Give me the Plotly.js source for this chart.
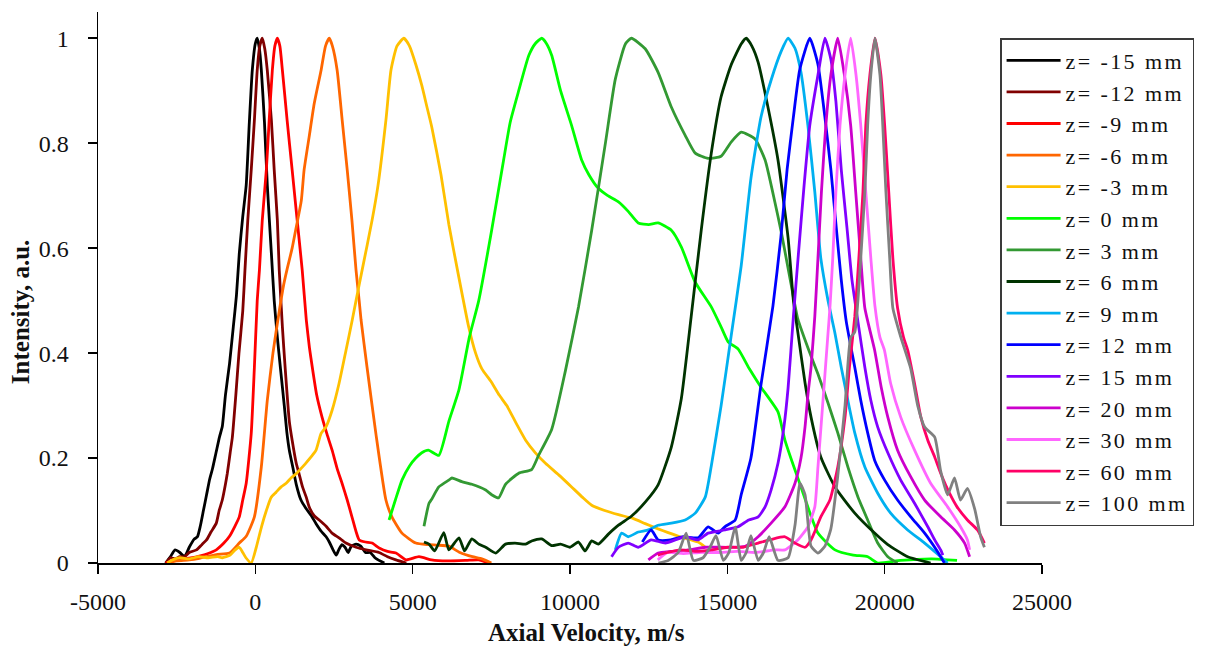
<!DOCTYPE html>
<html><head><meta charset="utf-8">
<script src="https://cdn.plot.ly/plotly-3.0.1.min.js"></script>
<style>html,body{margin:0;padding:0;background:#fff}#chart{width:1206px;height:652px}
.legendtext{letter-spacing:2.4px}</style>
</head><body><div id="chart"></div>
<script>
// Axial velocity (m/s) and normalized intensity (a.u.) per axial position z
const v_m15 = [-2850,-2700,-2550,-2400,-2250,-2100,-1950,-1840,-1750,-1650,-1550,-1450,-1360,-1250,-1140,-1050,-950,-820,-700,-600,-510,-400,-290,-190,-95,0,60,130,190,290,380,510,600,700,800,920,1000,1080,1200,1300,1450,1600,1780,1930,2100,2250,2350,2470,2570,2650,2750,2850,2950,3050,3200,3350,3500,3650,3800,3930,4100];
const i_m15 = [0,.012,.025,.02,.012,.03,.045,.05,.07,.1,.13,.16,.18,.21,.24,.26,.32,.38,.45,.51,.59,.66,.72,.84,.94,.99,1,.98,.94,.84,.72,.59,.5,.43,.37,.3,.25,.215,.18,.15,.12,.105,.09,.075,.06,.05,.04,.025,.015,.025,.035,.03,.02,.032,.036,.032,.02,.02,.01,.005,0];

const v_m12 = [-2850,-2700,-2550,-2400,-2250,-2100,-1870,-1700,-1550,-1400,-1240,-1150,-1050,-950,-890,-800,-730,-620,-520,-400,-330,-240,-130,-30,60,140,220,300,380,510,600,700,760,860,950,1080,1170,1300,1390,1500,1620,1710,1870,2030,2250,2440,2660,2880,3200,3520,3930,4200,4470,4800];
const i_m12 = [0,.01,.008,.012,.012,.02,.025,.035,.044,.06,.076,.1,.12,.15,.171,.21,.24,.32,.4,.48,.558,.653,.749,.844,.939,.985,1,.98,.939,.844,.749,.653,.558,.45,.37,.27,.234,.19,.17,.145,.125,.107,.09,.082,.07,.057,.048,.038,.03,.025,.02,.012,.006,0];

const v_m9 = [-2850,-2600,-2300,-2000,-1780,-1500,-1240,-1000,-820,-650,-510,-400,-290,-130,-30,60,130,220,350,440,540,620,700,780,860,1010,1170,1330,1490,1620,1720,1810,1950,2120,2280,2440,2600,2760,2920,3070,3200,3300,3500,3710,3950,4200,4470,4790,5200,5600,6100,6700,7100,7400];
const i_m9 = [0,.005,.008,.01,.013,.018,.025,.038,.051,.07,.088,.12,.152,.247,.373,.5,.558,.653,.749,.844,.939,.985,1,.985,.939,.844,.749,.653,.558,.463,.41,.373,.32,.278,.245,.215,.18,.151,.12,.088,.06,.044,.04,.038,.028,.022,.019,.006,.012,.006,.004,.005,.006,0];

const v_m6 = [-2800,-2500,-2100,-1780,-1240,-820,-510,-290,-30,190,380,560,760,900,1010,1170,1300,1460,1550,1710,1870,2090,2230,2350,2450,2600,2760,2920,3070,3200,3300,3360,3550,3830,4150,4340,4660,5100,5500,5800,6150,6500,6900,7200,7500];
const i_m6 = [0,.004,.006,.009,.016,.019,.038,.051,.088,.183,.31,.4,.48,.53,.56,.6,.64,.69,.749,.812,.875,.939,.985,1,.985,.939,.844,.749,.653,.558,.5,.463,.373,.247,.12,.088,.057,.038,.035,.034,.032,.02,.012,.008,0];

const v_m3 = [-2800,-2630,-2400,-2100,-1800,-1500,-1200,-1050,-800,-640,-510,-400,-300,-130,30,200,350,500,660,820,980,1150,1300,1450,1600,1810,1930,2090,2250,2440,2660,2880,3080,3200,3400,3710,3900,4150,4310,4500,4720,4900,5100,5290,5450,5610,5900,6150,6450,6780,7000,7200,7500,7750,7990,8300,8590,8900,9220,9640,10050,10400,10690,11100,11540,12000,12390,12800,13120,13500,14070,14300];
const i_m3 = [0,.006,.01,.008,.012,.01,.012,.01,.015,.025,.03,.02,.01,0,.03,.07,.1,.125,.135,.145,.152,.163,.17,.18,.19,.205,.215,.247,.26,.291,.342,.405,.463,.5,.56,.653,.72,.844,.939,.985,1,.985,.95,.91,.87,.83,.74,.645,.55,.45,.4,.37,.345,.32,.3,.265,.234,.21,.19,.168,.145,.125,.11,.1,.092,.085,.075,.065,.058,.05,.04,.03];

const v_p0 = [4250,4450,4660,4900,5100,5290,5500,5830,6150,6470,6800,7100,7510,7890,8100,8370,8690,8900,9100,9250,9420,9700,10050,10370,10600,10900,11200,11540,11850,12170,12500,12800,13220,13540,13980,14490,14800,15030,15340,15700,16070,16610,16830,17340,17880,18420,19000,19460,19780,20500,21500,22300];
const i_p0 = [.082,.12,.158,.185,.2,.21,.215,.205,.27,.33,.43,.5,.634,.768,.84,.9,.967,.99,1,.99,.967,.9,.834,.768,.74,.714,.7,.688,.67,.648,.645,.648,.634,.602,.535,.488,.45,.421,.408,.37,.335,.288,.234,.145,.057,.025,.015,.012,0,.005,.008,.005];

const v_p3 = [5360,5520,5610,5830,6150,6250,6560,6880,7320,7510,7730,7950,8370,8780,9000,9420,9860,10270,10690,11130,11440,11760,11950,12390,12800,13220,13660,13980,14390,14800,15120,15440,15880,16200,16510,16710,17020,17240,17560,17880,18200,18510,18830,19150,19460,19780,20100,20410];
const i_p3 = [.07,.114,.122,.145,.158,.162,.155,.15,.139,.13,.124,.15,.171,.178,.205,.255,.368,.488,.634,.802,.922,.989,1,.98,.935,.869,.815,.781,.771,.775,.802,.821,.808,.768,.688,.632,.533,.465,.41,.36,.305,.248,.183,.126,.082,.038,.012,0];

const v_p6 = [5360,5520,5700,5990,6150,6470,6650,6880,7100,7320,7640,7950,8250,8590,8780,9100,9420,9700,10000,10270,10480,10690,10900,11220,11540,11950,12390,12800,13220,13540,13850,14170,14490,14800,15120,15440,15600,15780,15980,16290,16610,16930,17100,17240,17470,17660,17970,18420,19050,19680,20100,20730,21460];
const i_p6 = [.04,.036,.023,.058,.025,.048,.023,.046,.036,.03,.019,.036,.038,.036,.042,.046,.033,.036,.03,.04,.023,.042,.036,.055,.072,.089,.116,.149,.221,.314,.469,.634,.781,.888,.949,.989,1,.985,.954,.869,.768,.62,.5,.44,.343,.278,.202,.145,.095,.057,.035,.012,0];

const v_p9 = [11440,11640,11850,12170,12490,12800,13220,13660,13980,14300,14490,14800,15120,15440,15750,16070,16390,16710,16930,17150,17340,17560,17780,17970,18200,18420,18620,18830,19050,19370,19780,20190,20730,21270,21780,22000];
const i_p9 = [.025,.057,.05,.059,.063,.072,.076,.082,.095,.126,.185,.299,.432,.566,.733,.85,.92,.975,1,.981,.935,.834,.707,.581,.5,.438,.373,.31,.248,.183,.133,.095,.063,.038,.012,0];

const v_p12 = [12300,12580,12800,13200,13600,14070,14390,14710,14920,15250,15440,15750,16070,16450,16700,16900,17100,17300,17620,17880,18100,18290,18460,18620,18780,19050,19240,19460,19680,20000,20410,20830,21270,21590,21780,21900];
const i_p12 = [.04,.063,.044,.044,.05,.048,.069,.057,.069,.082,.13,.2,.34,.49,.62,.75,.85,.94,1,.95,.85,.75,.64,.54,.46,.373,.31,.248,.196,.158,.12,.088,.057,.03,.012,0];

const v_p15 = [11320,11540,11850,12170,12580,13030,13660,14070,14390,14920,15340,15680,15980,16200,16390,16610,16800,16930,17100,17260,17440,17620,17880,18100,18290,18450,18620,18800,18960,19150,19370,19560,19780,20100,20510,20950,21370,21590,21780,21850];
const i_p15 = [.012,.03,.038,.03,.044,.038,.05,.044,.057,.063,.069,.082,.088,.107,.139,.19,.26,.333,.47,.59,.72,.834,.93,1,.96,.88,.75,.64,.54,.46,.373,.31,.259,.21,.158,.114,.069,.044,.025,.015];

const v_p20 = [12490,12800,13200,13750,14300,14710,15130,15570,15980,16390,16830,17150,17340,17470,17560,17660,17780,17880,17990,18130,18290,18510,18720,18920,19080,19240,19370,19680,19890,20100,20410,20830,21270,21780,22220,22540,22700];
const i_p20 = [.006,.019,.022,.025,.03,.03,.03,.032,.05,.076,.107,.152,.2,.26,.32,.373,.47,.581,.707,.834,.93,1,.93,.834,.707,.581,.486,.406,.335,.278,.215,.164,.12,.088,.063,.038,.012];

const v_p30 = [12790,13100,13600,14100,14700,15300,15900,16500,16830,17240,17560,17780,17880,18040,18200,18260,18350,18450,18580,18740,18920,19090,19240,19400,19560,19690,19850,19990,20190,20510,20950,21460,22000,22410,22630,22700];
const i_p30 = [.006,.02,.018,.02,.02,.022,.02,.025,.025,.044,.069,.107,.183,.31,.438,.486,.581,.707,.834,.93,1,.93,.834,.707,.581,.49,.43,.406,.342,.278,.215,.152,.107,.069,.044,.025];

const v_p60 = [12790,13100,13500,14000,14500,15000,15500,15980,16400,16830,17150,17470,17660,17780,17970,18260,18510,18740,18880,19050,19180,19310,19400,19530,19690,19880,20000,20130,20260,20410,20600,20730,20950,21150,21370,21590,21780,22060,22300,22630,22950,23170];
const i_p60 = [.015,.02,.025,.022,.025,.03,.03,.038,.045,.05,.038,.03,.044,.06,.088,.12,.183,.278,.373,.469,.581,.707,.834,.93,1,.93,.834,.707,.581,.486,.43,.406,.342,.278,.234,.202,.171,.133,.107,.082,.063,.038];

const v_p100 = [12810,13120,13440,13690,13920,14230,14450,14640,14870,15050,15250,15440,15600,15750,15980,16150,16330,16610,16930,17150,17310,17470,17660,17880,18100,18290,18510,18740,18920,19050,19150,19240,19370,19460,19560,19690,19850,19940,20040,20160,20260,20510,20830,21050,21270,21590,21780,22000,22220,22410,22630,22860,23050,23170];
const i_p100 = [0,.005,.02,.057,.005,.01,.03,.052,.005,.02,.069,.005,.02,.052,.005,.02,.05,.005,.01,.072,.152,.13,.032,.019,.032,.065,.166,.3,.43,.44,.5,.581,.707,.834,.93,1,.93,.834,.707,.581,.486,.431,.37,.3,.259,.24,.175,.13,.162,.12,.142,.103,.05,.03];

const seriesNames = ['z= -15 mm','z= -12 mm','z= -9 mm','z= -6 mm','z= -3 mm','z= 0 mm','z= 3 mm','z= 6 mm','z= 9 mm','z= 12 mm','z= 15 mm','z= 20 mm','z= 30 mm','z= 60 mm','z= 100 mm'];
const seriesColors = ['#000000','#800000','#ff0000','#ff6600','#ffc000','#00ff00','#339933','#003300','#00b0f0','#0000ff','#8000ff','#cc00cc','#ff66ff','#ff0066','#808080'];
const seriesX = [v_m15,v_m12,v_m9,v_m6,v_m3,v_p0,v_p3,v_p6,v_p9,v_p12,v_p15,v_p20,v_p30,v_p60,v_p100];
const seriesY = [i_m15,i_m12,i_m9,i_m6,i_m3,i_p0,i_p3,i_p6,i_p9,i_p12,i_p15,i_p20,i_p30,i_p60,i_p100];
const xTicks = [-5000,0,5000,10000,15000,20000,25000];
const yTicks = [0,0.2,0.4,0.6,0.8,1];

const serif = '"Liberation Serif", "Times New Roman", Times, serif';

const traces = seriesNames.map((n,k)=>({
  type:'scatter', mode:'lines', name:n, x:seriesX[k], y:seriesY[k],
  line:{color:seriesColors[k], width:2.8, shape:'spline', smoothing:0.5}, legendgroup:'g'+k
}));

const layout = {
  width:1206, height:652,
  margin:{l:98, r:162, t:12, b:89, pad:0},
  paper_bgcolor:'#ffffff', plot_bgcolor:'#ffffff',
  showlegend:true,
  xaxis:{
    range:[-5000,25000], tickvals:xTicks, ticktext:xTicks.map(String),
    showgrid:false, zeroline:false, showline:true, linecolor:'#000', linewidth:1.5,
    ticks:'outside', ticklen:9, tickwidth:1.5, tickcolor:'#000',
    tickfont:{family:serif, size:24, color:'#111'}, ticklabelstandoff:8
  },
  yaxis:{
    range:[0,1.05], tickvals:yTicks, ticktext:['0','0.2','0.4','0.6','0.8','1'],
    showgrid:false, zeroline:false, showline:true, linecolor:'#000', linewidth:1.5,
    ticks:'outside', ticklen:9, tickwidth:1.5, tickcolor:'#000',
    tickfont:{family:serif, size:24, color:'#111'}, ticklabelstandoff:14
  },
  legend:{
    x:0.9556, xanchor:'left', y:0.9528, yanchor:'top',
    bgcolor:'#ffffff', bordercolor:'#3a3a3a', borderwidth:1.5,
    font:{family:serif, size:22, color:'#111'},
    itemwidth:54, tracegroupgap:0
  },
  annotations:[
    {text:'<b>Axial Velocity, m/s</b>', xref:'paper', yref:'paper', x:0.518, y:-0.127,
     xanchor:'center', yanchor:'middle', showarrow:false, font:{family:serif, size:25, color:'#111'}},
    {text:'<b>Intensity, a.u.</b>', xref:'paper', yref:'paper', x:-0.0825, y:0.4555,
     xanchor:'center', yanchor:'middle', textangle:-90, showarrow:false, font:{family:serif, size:25, color:'#111'}}
  ]
};

Plotly.newPlot('chart', traces, layout, {displayModeBar:false, staticPlot:true});
</script>
</body></html>
